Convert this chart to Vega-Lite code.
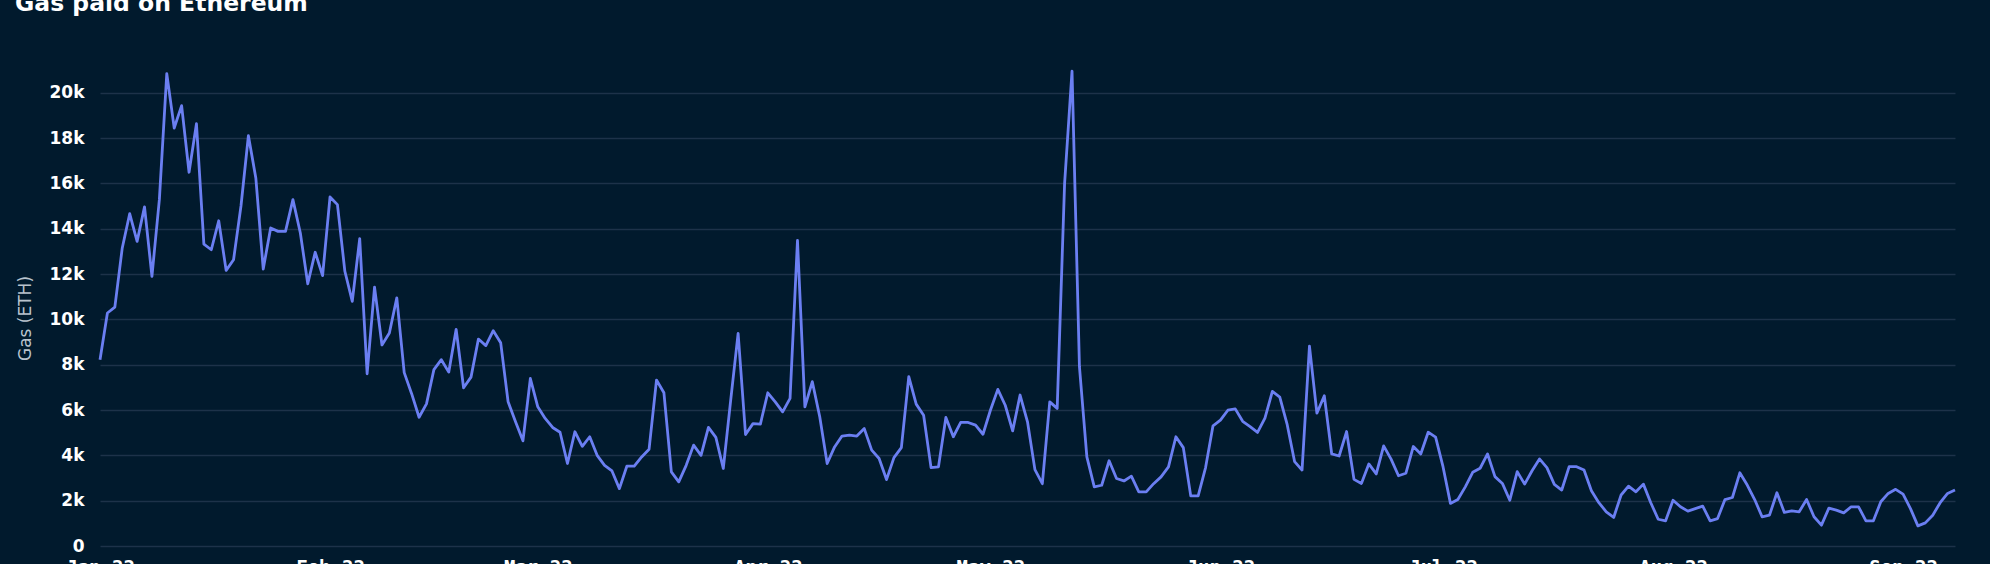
{
  "$schema": "https://vega.github.io/schema/vega-lite/v6.json",
  "width": 1855,
  "height": 476,
  "autosize": {"type": "none"},
  "padding": {"left": 100, "top": 70, "right": 35, "bottom": 18},
  "background": "#011a2d",
  "title": {
    "text": "Gas paid on Ethereum",
    "anchor": "start",
    "frame": "group",
    "dx": -85,
    "offset": 35,
    "baseline": "alphabetic",
    "font": "DejaVu Sans",
    "fontSize": 23.5,
    "fontWeight": "bold",
    "color": "#ffffff"
  },
  "config": {
    "view": {"stroke": null},
    "axis": {"labelColor": "#ffffff", "titleColor": "#b9c3cd"}
  },
  "data": {
    "values": [
      {"date": "2022-01-01", "gas": 8220}, {"date": "2022-01-02", "gas": 10280}, {"date": "2022-01-03", "gas": 10540}, {"date": "2022-01-04", "gas": 13150}, {"date": "2022-01-05", "gas": 14660}, {"date": "2022-01-06", "gas": 13440}, {"date": "2022-01-07", "gas": 14960}, {"date": "2022-01-08", "gas": 11900}, {"date": "2022-01-09", "gas": 15280}, {"date": "2022-01-10", "gas": 20840},
      {"date": "2022-01-11", "gas": 18440}, {"date": "2022-01-12", "gas": 19430}, {"date": "2022-01-13", "gas": 16490}, {"date": "2022-01-14", "gas": 18630}, {"date": "2022-01-15", "gas": 13320}, {"date": "2022-01-16", "gas": 13070}, {"date": "2022-01-17", "gas": 14350}, {"date": "2022-01-18", "gas": 12160}, {"date": "2022-01-19", "gas": 12630}, {"date": "2022-01-20", "gas": 15000},
      {"date": "2022-01-21", "gas": 18100}, {"date": "2022-01-22", "gas": 16240}, {"date": "2022-01-23", "gas": 12220}, {"date": "2022-01-24", "gas": 14030}, {"date": "2022-01-25", "gas": 13880}, {"date": "2022-01-26", "gas": 13880}, {"date": "2022-01-27", "gas": 15280}, {"date": "2022-01-28", "gas": 13810}, {"date": "2022-01-29", "gas": 11570}, {"date": "2022-01-30", "gas": 12960},
      {"date": "2022-01-31", "gas": 11930},
      {"date": "2022-02-01", "gas": 15400}, {"date": "2022-02-02", "gas": 15060}, {"date": "2022-02-03", "gas": 12120}, {"date": "2022-02-04", "gas": 10790}, {"date": "2022-02-05", "gas": 13560}, {"date": "2022-02-06", "gas": 7600}, {"date": "2022-02-07", "gas": 11420}, {"date": "2022-02-08", "gas": 8870}, {"date": "2022-02-09", "gas": 9400}, {"date": "2022-02-10", "gas": 10950},
      {"date": "2022-02-11", "gas": 7650}, {"date": "2022-02-12", "gas": 6720}, {"date": "2022-02-13", "gas": 5680}, {"date": "2022-02-14", "gas": 6270}, {"date": "2022-02-15", "gas": 7780}, {"date": "2022-02-16", "gas": 8220}, {"date": "2022-02-17", "gas": 7670}, {"date": "2022-02-18", "gas": 9560}, {"date": "2022-02-19", "gas": 6980}, {"date": "2022-02-20", "gas": 7450},
      {"date": "2022-02-21", "gas": 9130}, {"date": "2022-02-22", "gas": 8840}, {"date": "2022-02-23", "gas": 9500}, {"date": "2022-02-24", "gas": 8970}, {"date": "2022-02-25", "gas": 6360}, {"date": "2022-02-26", "gas": 5480}, {"date": "2022-02-27", "gas": 4640}, {"date": "2022-02-28", "gas": 7390},
      {"date": "2022-03-01", "gas": 6140}, {"date": "2022-03-02", "gas": 5630}, {"date": "2022-03-03", "gas": 5230}, {"date": "2022-03-04", "gas": 5020}, {"date": "2022-03-05", "gas": 3640}, {"date": "2022-03-06", "gas": 5040}, {"date": "2022-03-07", "gas": 4400}, {"date": "2022-03-08", "gas": 4820}, {"date": "2022-03-09", "gas": 4000}, {"date": "2022-03-10", "gas": 3560},
      {"date": "2022-03-11", "gas": 3310}, {"date": "2022-03-12", "gas": 2530}, {"date": "2022-03-13", "gas": 3520}, {"date": "2022-03-14", "gas": 3520}, {"date": "2022-03-15", "gas": 3930}, {"date": "2022-03-16", "gas": 4270}, {"date": "2022-03-17", "gas": 7320}, {"date": "2022-03-18", "gas": 6760}, {"date": "2022-03-19", "gas": 3270}, {"date": "2022-03-20", "gas": 2830},
      {"date": "2022-03-21", "gas": 3560}, {"date": "2022-03-22", "gas": 4450}, {"date": "2022-03-23", "gas": 4000}, {"date": "2022-03-24", "gas": 5230}, {"date": "2022-03-25", "gas": 4790}, {"date": "2022-03-26", "gas": 3420}, {"date": "2022-03-27", "gas": 6440}, {"date": "2022-03-28", "gas": 9380}, {"date": "2022-03-29", "gas": 4920}, {"date": "2022-03-30", "gas": 5400},
      {"date": "2022-03-31", "gas": 5380},
      {"date": "2022-04-01", "gas": 6760}, {"date": "2022-04-02", "gas": 6360}, {"date": "2022-04-03", "gas": 5920}, {"date": "2022-04-04", "gas": 6510}, {"date": "2022-04-05", "gas": 13480}, {"date": "2022-04-06", "gas": 6140}, {"date": "2022-04-07", "gas": 7250}, {"date": "2022-04-08", "gas": 5700}, {"date": "2022-04-09", "gas": 3640}, {"date": "2022-04-10", "gas": 4370},
      {"date": "2022-04-11", "gas": 4850}, {"date": "2022-04-12", "gas": 4890}, {"date": "2022-04-13", "gas": 4850}, {"date": "2022-04-14", "gas": 5180}, {"date": "2022-04-15", "gas": 4230}, {"date": "2022-04-16", "gas": 3860}, {"date": "2022-04-17", "gas": 2930}, {"date": "2022-04-18", "gas": 3900}, {"date": "2022-04-19", "gas": 4340}, {"date": "2022-04-20", "gas": 7470},
      {"date": "2022-04-21", "gas": 6260}, {"date": "2022-04-22", "gas": 5770}, {"date": "2022-04-23", "gas": 3460}, {"date": "2022-04-24", "gas": 3490}, {"date": "2022-04-25", "gas": 5670}, {"date": "2022-04-26", "gas": 4820}, {"date": "2022-04-27", "gas": 5450}, {"date": "2022-04-28", "gas": 5450}, {"date": "2022-04-29", "gas": 5330}, {"date": "2022-04-30", "gas": 4930},
      {"date": "2022-05-01", "gas": 5990}, {"date": "2022-05-02", "gas": 6910}, {"date": "2022-05-03", "gas": 6210}, {"date": "2022-05-04", "gas": 5080}, {"date": "2022-05-05", "gas": 6660}, {"date": "2022-05-06", "gas": 5480}, {"date": "2022-05-07", "gas": 3370}, {"date": "2022-05-08", "gas": 2750}, {"date": "2022-05-09", "gas": 6360}, {"date": "2022-05-10", "gas": 6070},
      {"date": "2022-05-11", "gas": 16000}, {"date": "2022-05-12", "gas": 20950}, {"date": "2022-05-13", "gas": 7910}, {"date": "2022-05-14", "gas": 3930}, {"date": "2022-05-15", "gas": 2610}, {"date": "2022-05-16", "gas": 2680}, {"date": "2022-05-17", "gas": 3760}, {"date": "2022-05-18", "gas": 2980}, {"date": "2022-05-19", "gas": 2870}, {"date": "2022-05-20", "gas": 3080},
      {"date": "2022-05-21", "gas": 2390}, {"date": "2022-05-22", "gas": 2390}, {"date": "2022-05-23", "gas": 2750}, {"date": "2022-05-24", "gas": 3050}, {"date": "2022-05-25", "gas": 3490}, {"date": "2022-05-26", "gas": 4820}, {"date": "2022-05-27", "gas": 4340}, {"date": "2022-05-28", "gas": 2210}, {"date": "2022-05-29", "gas": 2210}, {"date": "2022-05-30", "gas": 3460},
      {"date": "2022-05-31", "gas": 5300},
      {"date": "2022-06-01", "gas": 5550}, {"date": "2022-06-02", "gas": 5990}, {"date": "2022-06-03", "gas": 6050}, {"date": "2022-06-04", "gas": 5500}, {"date": "2022-06-05", "gas": 5270}, {"date": "2022-06-06", "gas": 5010}, {"date": "2022-06-07", "gas": 5640}, {"date": "2022-06-08", "gas": 6820}, {"date": "2022-06-09", "gas": 6570}, {"date": "2022-06-10", "gas": 5350},
      {"date": "2022-06-11", "gas": 3720}, {"date": "2022-06-12", "gas": 3350}, {"date": "2022-06-13", "gas": 8820}, {"date": "2022-06-14", "gas": 5860}, {"date": "2022-06-15", "gas": 6630}, {"date": "2022-06-16", "gas": 4060}, {"date": "2022-06-17", "gas": 3970}, {"date": "2022-06-18", "gas": 5050}, {"date": "2022-06-19", "gas": 2940}, {"date": "2022-06-20", "gas": 2760},
      {"date": "2022-06-21", "gas": 3620}, {"date": "2022-06-22", "gas": 3180}, {"date": "2022-06-23", "gas": 4420}, {"date": "2022-06-24", "gas": 3830}, {"date": "2022-06-25", "gas": 3100}, {"date": "2022-06-26", "gas": 3210}, {"date": "2022-06-27", "gas": 4390}, {"date": "2022-06-28", "gas": 4060}, {"date": "2022-06-29", "gas": 5020}, {"date": "2022-06-30", "gas": 4800},
      {"date": "2022-07-01", "gas": 3500}, {"date": "2022-07-02", "gas": 1880}, {"date": "2022-07-03", "gas": 2050}, {"date": "2022-07-04", "gas": 2610}, {"date": "2022-07-05", "gas": 3250}, {"date": "2022-07-06", "gas": 3430}, {"date": "2022-07-07", "gas": 4060}, {"date": "2022-07-08", "gas": 3060}, {"date": "2022-07-09", "gas": 2760}, {"date": "2022-07-10", "gas": 2020},
      {"date": "2022-07-11", "gas": 3280}, {"date": "2022-07-12", "gas": 2730}, {"date": "2022-07-13", "gas": 3320}, {"date": "2022-07-14", "gas": 3840}, {"date": "2022-07-15", "gas": 3460}, {"date": "2022-07-16", "gas": 2720}, {"date": "2022-07-17", "gas": 2470}, {"date": "2022-07-18", "gas": 3500}, {"date": "2022-07-19", "gas": 3500}, {"date": "2022-07-20", "gas": 3350},
      {"date": "2022-07-21", "gas": 2440}, {"date": "2022-07-22", "gas": 1910}, {"date": "2022-07-23", "gas": 1510}, {"date": "2022-07-24", "gas": 1260}, {"date": "2022-07-25", "gas": 2250}, {"date": "2022-07-26", "gas": 2640}, {"date": "2022-07-27", "gas": 2390}, {"date": "2022-07-28", "gas": 2730}, {"date": "2022-07-29", "gas": 1910}, {"date": "2022-07-30", "gas": 1180},
      {"date": "2022-07-31", "gas": 1110},
      {"date": "2022-08-01", "gas": 2020}, {"date": "2022-08-02", "gas": 1730}, {"date": "2022-08-03", "gas": 1540}, {"date": "2022-08-04", "gas": 1650}, {"date": "2022-08-05", "gas": 1760}, {"date": "2022-08-06", "gas": 1110}, {"date": "2022-08-07", "gas": 1210}, {"date": "2022-08-08", "gas": 2050}, {"date": "2022-08-09", "gas": 2140}, {"date": "2022-08-10", "gas": 3230},
      {"date": "2022-08-11", "gas": 2690}, {"date": "2022-08-12", "gas": 2050}, {"date": "2022-08-13", "gas": 1290}, {"date": "2022-08-14", "gas": 1360}, {"date": "2022-08-15", "gas": 2350}, {"date": "2022-08-16", "gas": 1480}, {"date": "2022-08-17", "gas": 1550}, {"date": "2022-08-18", "gas": 1510}, {"date": "2022-08-19", "gas": 2050}, {"date": "2022-08-20", "gas": 1290},
      {"date": "2022-08-21", "gas": 920}, {"date": "2022-08-22", "gas": 1670}, {"date": "2022-08-23", "gas": 1580}, {"date": "2022-08-24", "gas": 1460}, {"date": "2022-08-25", "gas": 1730}, {"date": "2022-08-26", "gas": 1730}, {"date": "2022-08-27", "gas": 1110}, {"date": "2022-08-28", "gas": 1110}, {"date": "2022-08-29", "gas": 1950}, {"date": "2022-08-30", "gas": 2320},
      {"date": "2022-08-31", "gas": 2500},
      {"date": "2022-09-01", "gas": 2290}, {"date": "2022-09-02", "gas": 1650}, {"date": "2022-09-03", "gas": 890}, {"date": "2022-09-04", "gas": 1020}, {"date": "2022-09-05", "gas": 1360}, {"date": "2022-09-06", "gas": 1910}, {"date": "2022-09-07", "gas": 2320}, {"date": "2022-09-08", "gas": 2470}
    ]
  },
  "mark": {"type": "line", "color": "#6b7ff2", "strokeWidth": 2.8, "strokeJoin": "round"},
  "encoding": {
    "x": {
      "field": "date",
      "type": "temporal",
      "timeUnit": "utcyearmonthdate",
      "axis": {
        "title": null,
        "format": "%b %y",
        "tickCount": {"interval": "month", "step": 1},
        "grid": false,
        "domain": false,
        "ticks": false,
        "labelPadding": 12,
        "labelBaseline": "top",
        "labelFont": "DejaVu Sans Mono",
        "labelFontSize": 19,
        "labelFontWeight": "bold",
        "labelFlush": false,
        "labelOverlap": false
      }
    },
    "y": {
      "field": "gas",
      "type": "quantitative",
      "scale": {"domain": [0, 21000], "nice": false},
      "axis": {
        "title": "Gas (ETH)",
        "values": [0, 2000, 4000, 6000, 8000, 10000, 12000, 14000, 16000, 18000, 20000],
        "format": "~s",
        "labelExpr": "datum.value === 0 ? '0' : datum.label",
        "grid": true,
        "gridColor": "#1d3249",
        "gridWidth": 1.5,
        "domain": false,
        "ticks": false,
        "labelPadding": 16,
        "labelFont": "DejaVu Sans",
        "labelFontSize": 17,
        "labelFontWeight": "bold",
        "titleFont": "DejaVu Sans",
        "titleFontSize": 17,
        "titleFontWeight": "normal",
        "titleAlign": "center",
        "titleBaseline": "middle",
        "titleAngle": -90,
        "titleX": -75,
        "titleY": 248
      }
    }
  }
}
